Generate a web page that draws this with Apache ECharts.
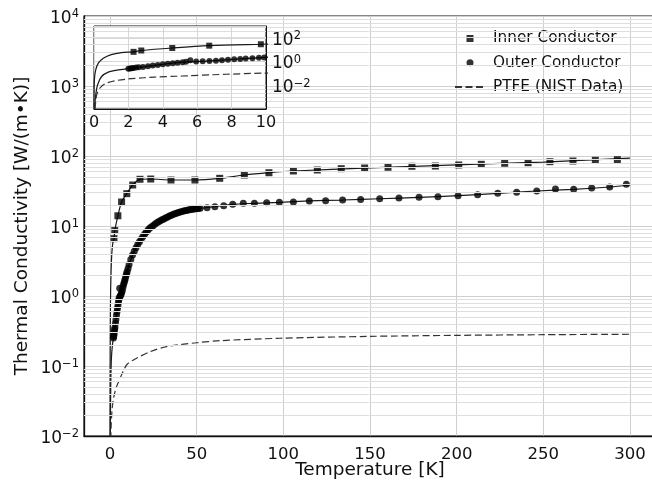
<!DOCTYPE html>
<html><head><meta charset="utf-8">
<script src="https://cdn.jsdelivr.net/npm/echarts@6/dist/echarts.min.js"></script>
<style>html,body{margin:0;padding:0;background:#fff}#c{width:652px;height:483px}</style>
</head><body><div id="c"></div>
<script>
// ---- data ----
const innerT = [2.3, 2.75, 4.55, 6.7, 9.7, 13.1, 17.3, 23.5, 35.2, 49, 63.3, 77.5, 91.7, 105.8, 119.6, 133.4, 146.9, 160.4, 174.2, 187.7, 201.2, 214.2, 227.7, 241.2, 253.8, 267.1, 280, 292.7];
const innerK = [6.6, 8.6, 14, 22, 29, 38.5, 46.5, 46.9, 45.4, 45.4, 48, 53.5, 57.7, 61.1, 63.1, 65.9, 67.4, 69, 71.3, 71.9, 74.4, 76.1, 78.7, 80.2, 82.9, 84.8, 86.8, 88.6];

const outerT = [2.0, 2.1, 2.2, 2.3, 2.45, 2.6, 2.85, 3.14, 3.42, 3.71, 4.0, 4.29, 4.58, 4.86, 5.15, 5.35, 5.6, 5.94, 6.32, 6.71, 7.09, 7.44, 7.79, 8.15, 8.5, 8.82, 9.21, 9.59, 9.9, 10.45,
  11, 12, 13, 14, 15, 16, 17, 18, 19, 20, 21, 22, 23, 24, 25, 26, 27, 28, 29, 30, 31, 32, 33, 34, 35, 36, 37, 38, 39, 40, 41, 42, 43, 44, 45, 46, 47, 48, 49, 50, 51, 52,
  56, 60.5, 65.6, 70.8, 76.9, 83.3, 90.4, 97.7, 105.8, 115, 124.4, 134.2, 144.6, 155.6, 166.7, 178.3, 189.2, 200.8, 212.1, 223.7, 234.6, 246.2, 257, 267.5, 277.9, 288.3, 297.9];
const outerK = [0.251, 0.263, 0.275, 0.288, 0.309, 0.331, 0.355, 0.407, 0.457, 0.525, 0.589, 0.661, 0.724, 0.813, 0.891, 0.955, 1.29, 1.0, 1.05, 1.12, 1.20, 1.32, 1.45, 1.55, 1.66, 1.78, 1.95, 2.09, 2.24, 2.5,
  2.82, 3.31, 3.85, 4.37, 4.90, 5.43, 5.96, 6.53, 7.08, 7.67, 8.22, 8.81, 9.33, 9.77, 10.2, 10.7, 11.1, 11.5, 11.9, 12.3, 12.6, 13.0, 13.3, 13.8, 14.1, 14.5, 14.8, 15.1, 15.5, 15.7, 16.0, 16.3, 16.5, 16.7, 16.9, 17.1, 17.3, 17.4, 17.6, 17.7, 17.8, 17.9,
  18.3, 18.9, 19.5, 20.4, 21.1, 21.1, 21.5, 21.8, 22.0, 22.8, 23.0, 23.5, 24.0, 24.5, 25.1, 25.7, 26.2, 27.1, 28.0, 29.3, 30.3, 31.6, 33.8, 33.4, 34.9, 36.1, 39.4];

const ptfeT = [0.06, 0.16, 0.35, 0.64, 1.21, 1.98, 2.9, 3.52, 4.8, 5.44, 6.9, 7.7, 9.78, 13.5, 23.1, 32.7, 50, 63.5, 98, 150, 200, 250, 300];
const ptfeK = [0.0001, 0.0016, 0.0059, 0.0135, 0.024, 0.034, 0.043, 0.049, 0.058, 0.063, 0.077, 0.085, 0.105, 0.122, 0.16, 0.189, 0.215, 0.23, 0.249, 0.265, 0.274, 0.28, 0.284];

const innerFitT = [0.0005, 0.005, 0.03, 0.1, 0.25, 0.54, 1.0, 1.6, 2.3, 2.75, 4.55, 6.7, 9.7, 13.1, 17.3, 23.5, 35.2, 49, 63.3, 77.5, 91.7, 105.8, 150, 200, 250, 300];
const innerFitK = [0.0001, 0.003, 0.04, 0.2, 0.73, 1.9, 3.9, 5.7, 6.6, 8.6, 14, 22, 29, 38.5, 46.5, 46.9, 45.4, 45.4, 48, 53.5, 57.7, 61.1, 67.6, 74.8, 82, 93];

const outerFitT = [0.03, 0.1, 0.21, 0.44, 0.83, 1.41, 2.0, 3.0, 4.0, 5.0, 6.5, 8.0, 10, 13, 16, 20, 25, 30, 36, 42, 48, 52, 60.5, 70.8, 83.3, 97.7, 115, 134.2, 155.6, 178.3, 200.8, 223.7, 246.2, 267.5, 288.3, 300];
const outerFitK = [0.0001, 0.0015, 0.011, 0.055, 0.13, 0.2, 0.25, 0.38, 0.589, 0.85, 1.09, 1.5, 2.3, 3.85, 5.43, 7.67, 10.2, 12.3, 14.5, 16.3, 17.4, 17.9, 18.9, 20.4, 21.1, 21.8, 22.8, 23.5, 24.5, 25.7, 27.1, 29.3, 31.6, 33.4, 36.1, 38.5];

const seriesNames = ['Inner Conductor', 'Outer Conductor', 'PTFE (NIST Data)'];
const xTickLabels = [0, 50, 100, 150, 200, 250, 300];
const insetXTicks = [0, 2, 4, 6, 8, 10];
const insetYExps = [-2, 0, 2];
const xTitle = 'Temperature [K]';
const yTitle = 'Thermal Conductivity [W/(m\u2022K)]';

// ---- helpers ----
const FONT = 'DejaVu Sans';
const pairs = (xs, ys) => xs.map((x, i) => [x, ys[i]]);
function expOf(v) { const e = Math.log10(v); return Math.abs(e - Math.round(e)) < 1e-6 ? Math.round(e) : null; }
function sup(e) { return '{b|10}{e|' + (e < 0 ? '\u2212' + (-e) : String(e)) + '}'; }
const rich = {
  b: { fontFamily: FONT, fontSize: 17, color: '#111', lineHeight: 22, verticalAlign: 'bottom' },
  e: { fontFamily: FONT, fontSize: 11.5, color: '#111', lineHeight: 22, height: 19, verticalAlign: 'top' }
};
const minorVals = [];
for (let d = -2; d <= 3; d++) for (let m = 2; m <= 9; m++) minorVals.push(m * Math.pow(10, d));

const chart = echarts.init(document.getElementById('c'), null, { renderer: 'canvas' });
const fitStyle = { color: '#1a1a1a', width: 1.2 };
const mainGrid = 0, insetGrid = 1;

function seriesFor(g, z, symSize) {
  return [
    { name: 'innerFit', type: 'line', xAxisIndex: g, yAxisIndex: g, data: pairs(innerFitT, innerFitK), showSymbol: false, symbol: 'none', smooth: 0.3, lineStyle: fitStyle, itemStyle: { color: '#1a1a1a' }, z: z, clip: true, silent: true },
    { name: 'outerFit', type: 'line', xAxisIndex: g, yAxisIndex: g, data: pairs(outerFitT, outerFitK), showSymbol: false, symbol: 'none', smooth: 0.3, lineStyle: fitStyle, itemStyle: { color: '#1a1a1a' }, z: z, clip: true, silent: true },
    { name: seriesNames[0], type: 'scatter', xAxisIndex: g, yAxisIndex: g, data: pairs(innerT, innerK), symbol: 'rect', symbolSize: symSize, itemStyle: { color: '#000' }, z: z + 1, clip: true },
    { name: seriesNames[1], type: 'scatter', xAxisIndex: g, yAxisIndex: g, data: pairs(outerT, outerK), symbol: 'circle', symbolSize: symSize, itemStyle: { color: '#000' }, z: z + 1, clip: true },
    { name: seriesNames[2], type: 'line', xAxisIndex: g, yAxisIndex: g, data: pairs(ptfeT, ptfeK), showSymbol: false, symbol: 'none', smooth: 0.3, lineStyle: { color: '#333', width: 1.2, type: [7, 3.5] }, itemStyle: { color: '#333' }, z: z, clip: true }
  ];
}

const option = {
  animation: false,
  backgroundColor: '#fff',
  textStyle: { fontFamily: FONT },
  grid: [
    { left: 84, top: 16, width: 572, height: 420, show: true, borderColor: '#111', borderWidth: 1.2, backgroundColor: 'transparent', z: 0, containLabel: false, outerBoundsMode: 'none' },
    { left: 94, top: 26, width: 172, height: 83, show: true, borderColor: '#111', borderWidth: 1, backgroundColor: '#fff', z: 5, containLabel: false, outerBoundsMode: 'none' }
  ],
  legend: {
    data: [
      { name: seriesNames[0], icon: 'path://M0,0L10,0L10,10L0,10Z' },
      { name: seriesNames[1], icon: 'circle' },
      { name: seriesNames[2], itemStyle: { opacity: 0 } }
    ],
    orient: 'vertical', left: 449, top: 26,
    itemWidth: 30, itemHeight: 7, itemGap: 9.2, selectedMode: false,
    textStyle: { fontFamily: FONT, fontSize: 15.3, color: '#111', lineHeight: 14, padding: [0, 0, 0, 3] }
  },
  xAxis: [
    { type: 'value', gridIndex: 0, min: -15, max: 315,
      axisLine: { show: true, onZero: false, lineStyle: { color: '#111', width: 1.3 } }, axisTick: { show: false },
      axisLabel: { margin: 10, fontSize: 16.5, color: '#111', fontFamily: FONT, showMinLabel: true, showMaxLabel: true,
        formatter: v => (xTickLabels.indexOf(v) >= 0 ? String(v) : '') },
      splitLine: { show: true, lineStyle: { color: '#cfcfcf', width: 1 } },
      name: xTitle, nameLocation: 'middle', nameGap: 34, nameMoveOverlap: false, nameTextStyle: { fontSize: 18.5, color: '#111', fontFamily: FONT, verticalAlign: 'middle', lineHeight: 22 } },
    { type: 'value', gridIndex: 1, min: 0, max: 10, interval: 2, z: 6,
      axisLine: { show: true, onZero: false, lineStyle: { color: '#111', width: 1 } }, axisTick: { show: false },
      axisLabel: { margin: 6, fontSize: 16, color: '#111', fontFamily: FONT,
        formatter: v => (insetXTicks.indexOf(v) >= 0 ? String(v) : '') },
      splitLine: { show: true, lineStyle: { color: '#d6d6d6', width: 1 } } }
  ],
  yAxis: [
    { type: 'log', logBase: 10, gridIndex: 0, min: 0.01, max: 10000,
      axisLine: { show: true, onZero: false, lineStyle: { color: '#111', width: 1.3 } }, axisTick: { show: false },
      axisLabel: { margin: 5, rich: rich, formatter: v => { const e = expOf(v); return e === null ? '' : sup(e); } },
      splitLine: { show: true, lineStyle: { color: '#cfcfcf', width: 1 } },
      name: yTitle, nameLocation: 'middle', nameGap: 52, nameMoveOverlap: false, nameRotate: 90, nameTextStyle: { fontSize: 18.5, color: '#111', fontFamily: FONT } },
    { type: 'log', logBase: 10, gridIndex: 1, min: 0.0001, max: 1000, interval: 2, position: 'right', z: 6,
      axisLine: { show: true, onZero: false, lineStyle: { color: '#111', width: 1 } }, axisTick: { show: false },
      axisLabel: { margin: 6, rich: rich, formatter: v => { const e = expOf(v); return (e !== null && insetYExps.indexOf(e) >= 0) ? sup(e) : ''; } },
      splitLine: { show: true, lineStyle: { color: '#d6d6d6', width: 1 } } }
  ],
  series: [
    { name: 'minorGrid', type: 'line', xAxisIndex: 0, yAxisIndex: 0, data: [], silent: true, z: 1,
      markLine: { silent: true, symbol: ['none', 'none'], label: { show: false }, animation: false,
        lineStyle: { color: '#dedede', type: 'solid', width: 1 },
        data: minorVals.map(v => ({ yAxis: v })) } }
  ].concat(seriesFor(mainGrid, 2, 7)).concat(seriesFor(insetGrid, 7, 6))
};
chart.setOption(option);
</script></body></html>
